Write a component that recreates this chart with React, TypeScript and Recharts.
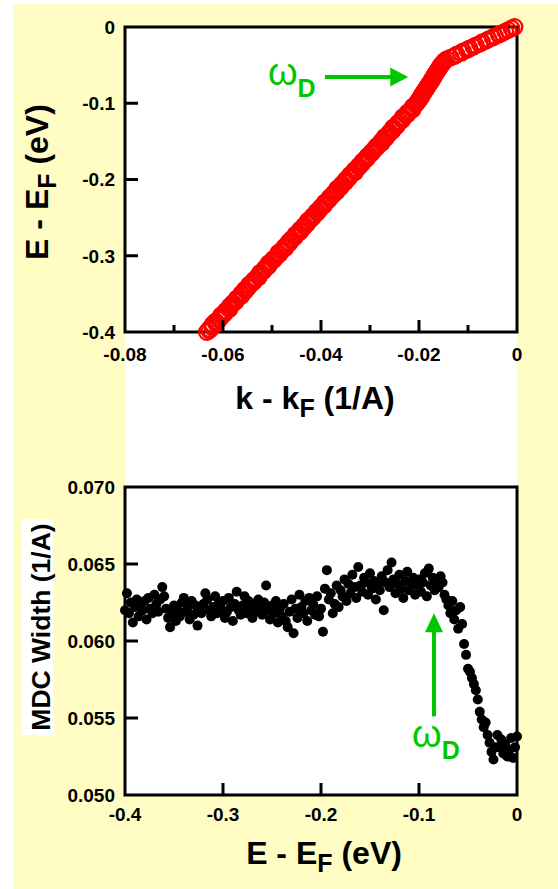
import React from "react";
import { ReferenceArea, ReferenceLine, Scatter, ScatterChart, XAxis, YAxis } from "recharts";

const FONT = "'Liberation Sans', Arial, Helvetica, sans-serif";
const YELLOW = "#FFFDC4";
const GREEN = "#00C800";

// energy grid E - EF (eV), shared by both panels
const eGrid = [
  -0.4, -0.398, -0.396, -0.394, -0.392, -0.39, -0.388, -0.386, -0.384, -0.382,
  -0.38, -0.378, -0.376, -0.374, -0.372, -0.37, -0.368, -0.366, -0.364, -0.362,
  -0.36, -0.358, -0.356, -0.354, -0.352, -0.35, -0.348, -0.346, -0.344, -0.342,
  -0.34, -0.338, -0.336, -0.334, -0.332, -0.33, -0.328, -0.326, -0.324, -0.322,
  -0.32, -0.318, -0.316, -0.314, -0.312, -0.31, -0.308, -0.306, -0.304, -0.302,
  -0.3, -0.298, -0.296, -0.294, -0.292, -0.29, -0.288, -0.286, -0.284, -0.282,
  -0.28, -0.278, -0.276, -0.274, -0.272, -0.27, -0.268, -0.266, -0.264, -0.262,
  -0.26, -0.258, -0.256, -0.254, -0.252, -0.25, -0.248, -0.246, -0.244, -0.242,
  -0.24, -0.238, -0.236, -0.234, -0.232, -0.23, -0.228, -0.226, -0.224, -0.222,
  -0.22, -0.218, -0.216, -0.214, -0.212, -0.21, -0.208, -0.206, -0.204, -0.202,
  -0.2, -0.198, -0.196, -0.194, -0.192, -0.19, -0.188, -0.186, -0.184, -0.182,
  -0.18, -0.178, -0.176, -0.174, -0.172, -0.17, -0.168, -0.166, -0.164, -0.162,
  -0.16, -0.158, -0.156, -0.154, -0.152, -0.15, -0.148, -0.146, -0.144, -0.142,
  -0.14, -0.138, -0.136, -0.134, -0.132, -0.13, -0.128, -0.126, -0.124, -0.122,
  -0.12, -0.118, -0.116, -0.114, -0.112, -0.11, -0.108, -0.106, -0.104, -0.102,
  -0.1, -0.098, -0.096, -0.094, -0.092, -0.09, -0.088, -0.086, -0.084, -0.082,
  -0.08, -0.078, -0.076, -0.074, -0.072, -0.07, -0.068, -0.066, -0.064, -0.062,
  -0.06, -0.058, -0.056, -0.054, -0.052, -0.05, -0.048, -0.046, -0.044, -0.042,
  -0.04, -0.038, -0.036, -0.034, -0.032, -0.03, -0.028, -0.026, -0.024, -0.022,
  -0.02, -0.018, -0.016, -0.014, -0.012, -0.01, -0.008, -0.006, -0.004, -0.002, 0,
];

// top panel: dispersion k - kF (1/A) at each energy
const dispK = [
  -0.0633, -0.0628, -0.0628, -0.0622, -0.0622, -0.0621, -0.0615, -0.0615, -0.0608, -0.0607,
  -0.0603, -0.0604, -0.0597, -0.0596, -0.0594, -0.0587, -0.0587, -0.0586, -0.0581, -0.058,
  -0.0574, -0.0573, -0.0572, -0.0566, -0.0562, -0.0563, -0.0559, -0.0554, -0.0555, -0.0549,
  -0.0547, -0.0547, -0.0541, -0.0537, -0.0537, -0.0533, -0.0527, -0.0528, -0.0524, -0.0524,
  -0.0517, -0.0516, -0.0514, -0.0508, -0.0506, -0.0507, -0.0502, -0.0497, -0.0497, -0.0492,
  -0.049, -0.0485, -0.0487, -0.0481, -0.0479, -0.0473, -0.0474, -0.047, -0.0465, -0.0466,
  -0.0461, -0.046, -0.0454, -0.0453, -0.0452, -0.0446, -0.0442, -0.0443, -0.0439, -0.0434,
  -0.0434, -0.0428, -0.0428, -0.0427, -0.0421, -0.0417, -0.0417, -0.0413, -0.0408, -0.0409,
  -0.0403, -0.0402, -0.04, -0.0394, -0.0393, -0.0392, -0.0387, -0.0383, -0.0383, -0.0379,
  -0.0375, -0.0374, -0.0368, -0.0368, -0.0367, -0.036, -0.0359, -0.0357, -0.0351, -0.0351,
  -0.0349, -0.0343, -0.0342, -0.0341, -0.0335, -0.033, -0.0332, -0.0328, -0.0323, -0.0323,
  -0.0317, -0.0316, -0.0315, -0.0309, -0.0306, -0.0306, -0.0302, -0.0297, -0.0297, -0.0292,
  -0.0291, -0.0286, -0.0286, -0.0281, -0.0276, -0.0277, -0.0273, -0.0268, -0.027, -0.0264,
  -0.0261, -0.026, -0.0254, -0.0253, -0.0253, -0.0246, -0.0244, -0.0243, -0.0239, -0.0234,
  -0.0233, -0.0233, -0.0227, -0.0223, -0.0223, -0.0218, -0.0213, -0.0214, -0.0212, -0.0207,
  -0.0205, -0.0203, -0.02, -0.0199, -0.0196, -0.0195, -0.0192, -0.0191, -0.0188, -0.0187,
  -0.0184, -0.0183, -0.018, -0.0179, -0.0176, -0.0174, -0.0173, -0.017, -0.0169, -0.0167,
  -0.0165, -0.0163, -0.0161, -0.0159, -0.0157, -0.0155, -0.0152, -0.015, -0.0147, -0.0143,
  -0.0135, -0.0127, -0.0123, -0.0114, -0.011, -0.0102, -0.0097, -0.0089, -0.0084, -0.0076,
  -0.0071, -0.0063, -0.0058, -0.005, -0.0045, -0.0037, -0.0031, -0.0024, -0.0018, -0.0011, -0.0005,
];

// bottom panel: MDC width (1/A) at each energy
const mdcW = [
  0.062, 0.0631, 0.0618, 0.0625, 0.0612, 0.0622, 0.0627, 0.0616, 0.0623, 0.062,
  0.0626, 0.0614, 0.0628, 0.0621, 0.0618, 0.063, 0.0624, 0.0619, 0.0627, 0.0635,
  0.0629, 0.0621, 0.0615, 0.0609, 0.0618, 0.0623, 0.0613, 0.062, 0.0616, 0.0625,
  0.0628, 0.0619, 0.0622, 0.0614, 0.0626, 0.0617, 0.0623, 0.061, 0.0621, 0.0618,
  0.0624, 0.0631, 0.0627, 0.062, 0.0616, 0.0622, 0.0629, 0.0618, 0.0625, 0.0621,
  0.0626, 0.0615, 0.0619, 0.0628, 0.0622, 0.0613, 0.0624, 0.0632, 0.062, 0.0617,
  0.0623, 0.0629, 0.0618, 0.0626, 0.0621, 0.0615, 0.0624, 0.0619, 0.0627, 0.0622,
  0.0617, 0.0625, 0.0636, 0.062, 0.0614, 0.0623, 0.0618, 0.0626, 0.0612, 0.0621,
  0.0616, 0.0624, 0.0613, 0.0609, 0.0619, 0.0627, 0.0605, 0.0621, 0.0615, 0.063,
  0.0622, 0.0618, 0.0626, 0.0613, 0.0628, 0.062, 0.0624, 0.0617, 0.0629, 0.0616,
  0.0621, 0.0606, 0.0634, 0.0646, 0.0627, 0.0631, 0.0618, 0.0624, 0.0636, 0.0622,
  0.0633, 0.0629, 0.064, 0.0626, 0.0637, 0.0631, 0.0643, 0.0635, 0.0628, 0.0648,
  0.0636, 0.0632, 0.0641, 0.0638, 0.063, 0.0644, 0.0634, 0.0639, 0.0627, 0.0637,
  0.0633, 0.0642, 0.062, 0.0638, 0.0646, 0.0635, 0.0651, 0.064, 0.0631, 0.0637,
  0.0643, 0.0634, 0.0628, 0.0639, 0.0645, 0.0633, 0.0637, 0.0641, 0.063, 0.0636,
  0.064, 0.0632, 0.0638, 0.0644, 0.0629, 0.0647, 0.0636, 0.0641, 0.0633, 0.0639,
  0.0635, 0.0642, 0.0638, 0.063, 0.0627, 0.0623, 0.0618, 0.0626, 0.0614, 0.062,
  0.0608, 0.0622, 0.0611, 0.0598, 0.0591, 0.0582, 0.058, 0.0576, 0.0572, 0.0568,
  0.0562, 0.0554, 0.0549, 0.0544, 0.0547, 0.0539, 0.0534, 0.0528, 0.0523, 0.0531,
  0.0539, 0.0531, 0.0536, 0.0527, 0.0533, 0.0525, 0.0529, 0.0537, 0.0524, 0.0531, 0.0538,
];

const kTicks = [-0.08, -0.07, -0.06, -0.05, -0.04, -0.03, -0.02, -0.01, 0];
const eTicks = [-0.4, -0.3, -0.2, -0.1, 0];
const wTicks = [0.05, 0.055, 0.06, 0.065, 0.07];

const dispData = eGrid.map((e, i) => ({ k: dispK[i], e }));
const mdcData = eGrid.map((e, i) => ({ e, w: mdcW[i] }));

// omega_D markers (tail -> head, data coords)
const dispArrow = { x1: -0.0392, x2: -0.0222, y: -0.0656 };
const mdcArrow = { x: -0.0847, y1: 0.0551, y2: 0.0618 };

const TICK_FONT = { fontFamily: FONT, fontSize: 19, fontWeight: 700, fill: "#000" };

const zeroFmt = (d: number) => (v: number) => (Math.abs(v) < 1e-9 ? "0" : v.toFixed(d));

// bottom axis ticks drawn pointing into the plot
const xTick =
  (margin: number, fmt: (v: number) => string, isMajor: (v: number) => boolean, edges: number[]) =>
  (p: any) => {
    const v = p.payload.value as number;
    const axisY = p.y - margin;
    const major = isMajor(v);
    const edge = edges.some((e) => Math.abs(e - v) < 1e-9);
    const len = major ? 12 : 7;
    return (
      <g>
        {!edge && <line x1={p.x} x2={p.x} y1={axisY} y2={axisY - len} stroke="#000" strokeWidth={3} />}
        {major && (
          <text x={p.x} y={p.y + 14} textAnchor="middle" {...TICK_FONT}>
            {fmt(v)}
          </text>
        )}
      </g>
    );
  };

const yTick = (margin: number, fmt: (v: number) => string, edges: number[]) => (p: any) => {
  const v = p.payload.value as number;
  const axisX = p.x + margin;
  const edge = edges.some((e) => Math.abs(e - v) < 1e-9);
  return (
    <g>
      {!edge && <line x1={axisX} x2={axisX + 13} y1={p.y} y2={p.y} stroke="#000" strokeWidth={3} />}
      <text x={p.x} y={p.y} dy="0.36em" textAnchor="end" {...TICK_FONT}>
        {fmt(v)}
      </text>
    </g>
  );
};

const TITLE = { fontFamily: FONT, fontWeight: 700, fill: "#000" };

const OmegaD = ({ x, y }: { x: number; y: number }) => (
  <text x={x} y={y} fill={GREEN} fontFamily={FONT}>
    <tspan fontSize={38}>ω</tspan>
    <tspan fontSize={25} fontWeight={700} dy={12}>D</tspan>
  </text>
);

const HArrow = (p: any) => {
  const { x1, y1, x2 } = p;
  return (
    <g>
      <line x1={x1} x2={x2 - 16} y1={y1} y2={y1} stroke={GREEN} strokeWidth={4} />
      <polygon points={`${x2},${y1} ${x2 - 18},${y1 - 9.5} ${x2 - 18},${y1 + 9.5}`} fill={GREEN} />
      <OmegaD x={x1 - 57} y={y1 + 8} />
    </g>
  );
};

const VArrow = (p: any) => {
  const { x1, y1, y2 } = p;
  const bottom = Math.max(y1, y2);
  const top = Math.min(y1, y2);
  return (
    <g>
      <line x1={x1} x2={x1} y1={bottom} y2={top + 16} stroke={GREEN} strokeWidth={4} />
      <polygon points={`${x1},${top} ${x1 - 9},${top + 19} ${x1 + 9},${top + 19}`} fill={GREEN} />
      <OmegaD x={x1 - 22} y={bottom + 31} />
    </g>
  );
};

export default function App() {
  return (
    <div style={{ position: "absolute", left: 0, top: 0, width: 558, height: 889, background: "#fff", overflow: "hidden" }}>
      <div style={{ position: "absolute", left: 13, top: 4, width: 545, height: 885, background: YELLOW }} />
      <div style={{ position: "absolute", left: 125, top: 27, width: 392, height: 768, background: "#fff" }} />

      <div style={{ position: "absolute", left: 0, top: 0 }}>
        <ScatterChart width={558} height={440} margin={{ top: 27, right: 41, bottom: 78, left: 0 }}>
          <XAxis
            type="number"
            dataKey="k"
            domain={[-0.08, 0]}
            ticks={kTicks}
            interval={0}
            axisLine={false}
            tickLine={false}
            tickSize={0}
            tickMargin={15}
            tick={xTick(15, zeroFmt(2), (v) => Math.round(v * 100) % 2 === 0, [-0.08, 0])}
            label={{
              content: (lp: any) => {
                const vb = lp.viewBox;
                return (
                  <text x={vb.x + vb.width / 2 - 6} y={409} textAnchor="middle" fontSize={32} {...TITLE}>
                    k - k<tspan fontSize={25} dy={8}>F</tspan>
                    <tspan dy={-8}> (1/A)</tspan>
                  </text>
                );
              },
            }}
          />
          <YAxis
            type="number"
            dataKey="e"
            domain={[-0.4, 0]}
            ticks={eTicks}
            interval={0}
            width={125}
            axisLine={false}
            tickLine={false}
            tickSize={0}
            tickMargin={10}
            tick={yTick(10, zeroFmt(1), [-0.4, 0])}
            label={{
              content: () => (
                <text transform="translate(48,182) rotate(-90)" textAnchor="middle" fontSize={32} {...TITLE}>
                  E - E<tspan fontSize={25} dy={8}>F</tspan>
                  <tspan dy={-8}> (eV)</tspan>
                </text>
              ),
            }}
          />
          <ReferenceArea x1={-0.08} x2={0} y1={-0.4} y2={0} fill="none" stroke="#000" strokeWidth={3} />
          <ReferenceLine
            segment={[
              { x: dispArrow.x1, y: dispArrow.y },
              { x: dispArrow.x2, y: dispArrow.y },
            ]}
            shape={HArrow}
          />
          <Scatter
            data={dispData}
            isAnimationActive={false}
            shape={(p: any) => <circle cx={p.cx} cy={p.cy} r={7.8} fill="none" stroke="#FF0000" strokeWidth={2.2} />}
          />
        </ScatterChart>
      </div>

      <div style={{ position: "absolute", left: 0, top: 440 }}>
        <ScatterChart width={558} height={449} margin={{ top: 47, right: 41, bottom: 64, left: 0 }}>
          <XAxis
            type="number"
            dataKey="e"
            domain={[-0.4, 0]}
            ticks={eTicks}
            interval={0}
            axisLine={false}
            tickLine={false}
            tickSize={0}
            tickMargin={12}
            tick={xTick(12, zeroFmt(1), () => true, [-0.4, 0])}
            label={{
              content: () => (
                <text x={324} y={424} textAnchor="middle" fontSize={32} {...TITLE}>
                  E - E<tspan fontSize={25} dy={8}>F</tspan>
                  <tspan dy={-8}> (eV)</tspan>
                </text>
              ),
            }}
          />
          <YAxis
            type="number"
            dataKey="w"
            domain={[0.05, 0.07]}
            ticks={wTicks}
            interval={0}
            width={125}
            axisLine={false}
            tickLine={false}
            tickSize={0}
            tickMargin={10}
            tick={yTick(10, (v) => v.toFixed(3), [0.05, 0.07])}
            label={{
              content: () => (
                <g>
                  <rect x={22} y={79} width={31} height={216} fill="#fff" />
                  <text transform="translate(50,187) rotate(-90)" textAnchor="middle" fontSize={26.5} {...TITLE}>
                    MDC Width (1/A)
                  </text>
                </g>
              ),
            }}
          />
          <ReferenceArea x1={-0.4} x2={0} y1={0.05} y2={0.07} fill="none" stroke="#000" strokeWidth={3} />
          <ReferenceLine
            segment={[
              { x: mdcArrow.x, y: mdcArrow.y1 },
              { x: mdcArrow.x, y: mdcArrow.y2 },
            ]}
            shape={VArrow}
          />
          <Scatter
            data={mdcData}
            isAnimationActive={false}
            shape={(p: any) => <circle cx={p.cx} cy={p.cy} r={5} fill="#000" />}
          />
        </ScatterChart>
      </div>
    </div>
  );
}
